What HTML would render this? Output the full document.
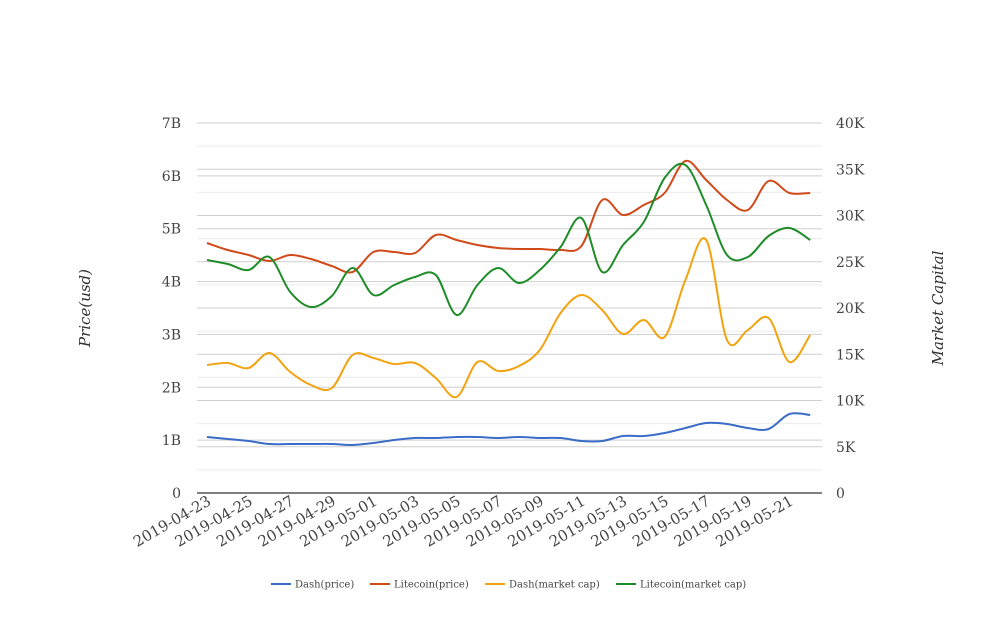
<!DOCTYPE html>
<html><head><meta charset="utf-8"><style>
body{margin:0;background:#fff;}
svg text{font-family:"DejaVu Serif","Liberation Serif",serif;}
</style></head><body>
<svg id="s" width="1008" height="616" xmlns="http://www.w3.org/2000/svg">
<g id="grid"></g>
<line x1="197" y1="493" x2="822" y2="493" stroke="#333" stroke-width="1.2"/>
<g id="lab" font-size="14" fill="#444"></g>
<text transform="translate(90,308) rotate(-90)" text-anchor="middle" font-size="15" font-style="italic" fill="#333">Price(usd)</text>
<text transform="translate(943,308) rotate(-90)" text-anchor="middle" font-size="15" font-style="italic" fill="#333">Market Capital</text>
<g id="lines" fill="none" stroke-width="2"></g>
<g font-size="10" fill="#444">
<line x1="271" y1="584" x2="291" y2="584" stroke="#3a6cc8" stroke-width="2"/><text x="295" y="587.5">Dash(price)</text>
<line x1="370" y1="584" x2="390" y2="584" stroke="#d04a1a" stroke-width="2"/><text x="394" y="587.5">Litecoin(price)</text>
<line x1="485" y1="584" x2="505" y2="584" stroke="#f2a30f" stroke-width="2"/><text x="509" y="587.5">Dash(market cap)</text>
<line x1="616" y1="584" x2="636" y2="584" stroke="#1e8c28" stroke-width="2"/><text x="640" y="587.5">Litecoin(market cap)</text>
</g>
</svg>
<script>
var NS="http://www.w3.org/2000/svg";
function el(p,t,a,txt){var e=document.createElementNS(NS,t);for(var k in a)e.setAttribute(k,a[k]);if(txt!=null)e.textContent=txt;document.getElementById(p).appendChild(e);}
for(var k=1;k<=16;k++){var y=493-k*23.125;el("grid","line",{x1:197,x2:822,y1:y,y2:y,stroke:k%2?"#ebebeb":"#cfcfcf","stroke-width":1});}
for(var k=1;k<=7;k++){var y=493-k*52.857;el("grid","line",{x1:197,x2:822,y1:y,y2:y,stroke:"#cfcfcf","stroke-width":1});}
for(var k=0;k<=7;k++){el("lab","text",{x:181,y:498-k*52.857,"text-anchor":"end"},k?k+"B":"0");}
for(var k=0;k<=8;k++){el("lab","text",{x:836,y:498-k*46.25},k?(k*5)+"K":"0");}
var d=new Date(Date.UTC(2019,3,23));
for(var i=0;i<=28;i+=2){var dt=new Date(d.getTime()+i*864e5);var s=dt.toISOString().slice(0,10);var x=207+i*20.8;
el("lab","text",{transform:"translate("+(x+5)+",504) rotate(-30)","text-anchor":"end","font-size":"15"},s);}
var S=[
["#3a6cc8",[437,439,441,444,444,444,444,445,443,440,438,438,437,437,438,437,438,438,441,441,436,436,433,428,423,424,428,429,414,415]],
["#d04a1a",[243,250,255,261,255,259,266,272,252,252,253,235,240,245,248,249,249,250,246,200,215,205,193,161,180,200,210,181,193,193]],
["#f2a30f",[365,363,368,353,372,385,388,355,358,364,363,378,397,362,371,366,350,313,295,310,334,320,337,280,240,340,330,318,362,335]],
["#1e8c28",[260,264,270,257,292,307,296,268,295,285,277,275,315,285,268,283,270,247,218,272,245,222,178,165,205,255,257,236,228,240]]];
S.forEach(function(s){var p=s[1].map(function(y,i){return [207+i*20.8,y];});var d="M"+p[0][0]+","+p[0][1];
for(var i=0;i<p.length-1;i++){var p0=p[Math.max(0,i-1)],p1=p[i],p2=p[i+1],p3=p[Math.min(p.length-1,i+2)];
var c1=[p1[0]+(p2[0]-p0[0])/6,p1[1]+(p2[1]-p0[1])/6],c2=[p2[0]-(p3[0]-p1[0])/6,p2[1]-(p3[1]-p1[1])/6];
d+=" C"+c1+" "+c2+" "+p2;}
el("lines","path",{d:d,stroke:s[0]});});
</script>
</body></html>
